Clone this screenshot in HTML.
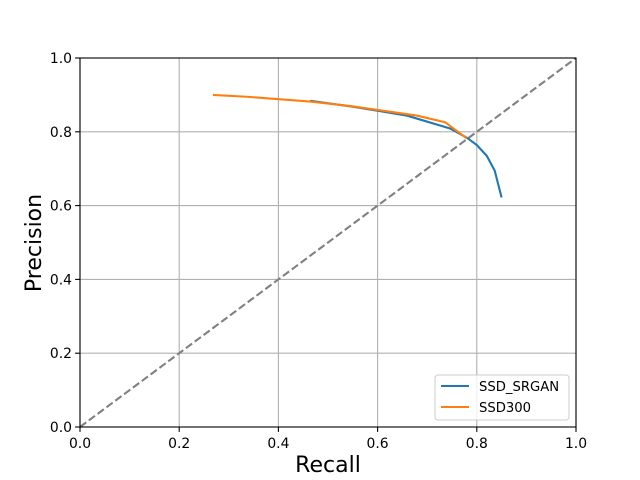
<!DOCTYPE html>
<html><head><meta charset="utf-8"><style>body{margin:0;background:#fff}svg{display:block;font-family:"DejaVu Sans","Liberation Sans",sans-serif}</style></head>
<body>
<svg id="chart" width="640" height="480"></svg>
<script>
const ticks=[0,0.2,0.4,0.6,0.8,1.0];
const tickLabels=["0.0","0.2","0.4","0.6","0.8","1.0"];
const srganRecall=[0.464,0.55,0.659,0.746,0.780,0.800,0.820,0.836,0.850];
const srganPrecision=[0.884,0.868,0.844,0.809,0.784,0.764,0.735,0.695,0.622];
const ssdRecall=[0.268,0.336,0.464,0.544,0.679,0.736,0.780];
const ssdPrecision=[0.900,0.895,0.882,0.870,0.844,0.826,0.782];
const X0=80,X1=576,Y0=427,Y1=58;
const sx=v=>X0+v*(X1-X0), sy=v=>Y0-v*(Y0-Y1);
const svg=document.getElementById('chart');
const NS='http://www.w3.org/2000/svg';
function mk(t,a,txt){const e=document.createElementNS(NS,t);for(const k in a)e.setAttribute(k,a[k]);if(txt!=null)e.textContent=txt;svg.appendChild(e);return e;}
ticks.forEach((t,i)=>{
 let g=mk('line',{x1:sx(t),x2:sx(t),y1:Y0,y2:Y1,stroke:'#b0b0b0','stroke-width':1.1});
 
 g=mk('line',{x1:X0,x2:X1,y1:sy(t),y2:sy(t),stroke:'#b0b0b0','stroke-width':1.1});
 
 mk('line',{x1:sx(t),x2:sx(t),y1:Y0,y2:Y0+4.9,stroke:'#000','stroke-width':1.1});
 mk('line',{x1:X0,x2:X0-4.9,y1:sy(t),y2:sy(t),stroke:'#000','stroke-width':1.1});
 let l=mk('text',{x:sx(t),y:Y0+21,'font-size':13.9,'text-anchor':'middle'},tickLabels[i]);
 
 l=mk('text',{x:X0-8,y:sy(t)+5,'font-size':13.9,'text-anchor':'end'},tickLabels[i]);
 
});
let d=mk('line',{x1:sx(0),y1:sy(0),x2:sx(1),y2:sy(1),stroke:'#808080','stroke-width':2.1,'stroke-dasharray':'7.7,3.3'});

const pts=(xs,ys)=>xs.map((x,i)=>sx(x)+','+sy(ys[i])).join(' ');
let p=mk('polyline',{points:pts(srganRecall,srganPrecision),fill:'none',stroke:'#1f77b4','stroke-width':2.1});

p=mk('polyline',{points:pts(ssdRecall,ssdPrecision),fill:'none',stroke:'#ff7f0e','stroke-width':2.1});

let f=mk('rect',{x:X0,y:Y1,width:X1-X0,height:Y0-Y1,fill:'none',stroke:'#000','stroke-width':1.1});

let t=mk('text',{x:(X0+X1)/2,y:472,'font-size':22,'text-anchor':'middle'},'Recall');

t=mk('text',{x:0,y:0,'font-size':22,'text-anchor':'middle',transform:'translate(41,243) rotate(-90)'},'Precision');

let lg=mk('rect',{x:435,y:375,width:134,height:45,rx:3,fill:'#fff','fill-opacity':0.8,stroke:'#ccc'});

[['SSD_SRGAN','#1f77b4',391],['SSD300','#ff7f0e',412]].forEach(([n,c,y])=>{
 mk('line',{x1:441,x2:469,y1:y-5,y2:y-5,stroke:c,'stroke-width':2.1});
 let e=mk('text',{x:479,y:y,'font-size':13.2},n);
 
});
</script>
</body></html>
